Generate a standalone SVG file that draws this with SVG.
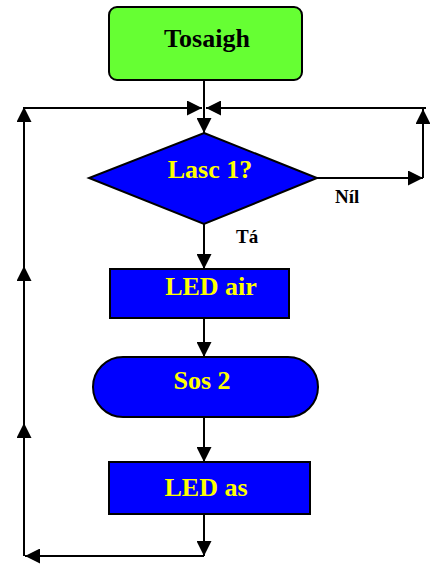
<svg xmlns="http://www.w3.org/2000/svg" width="430" height="566" viewBox="0 0 430 566">
<style>
.ln{stroke:#000;stroke-width:2;fill:none}
.nd{stroke:#000;stroke-width:2}
.blue{fill:#0000ff}
.t{font-family:"Liberation Serif","Times New Roman",serif;font-weight:bold;text-anchor:middle}
.y{fill:#ffff00;font-size:26px}
.k{fill:#000}
.lb{font-family:"Liberation Serif","Times New Roman",serif;font-weight:bold;font-size:19px;fill:#000}
</style>
<defs>
<marker id="ah" viewBox="0 0 10 10" refX="10" refY="5" markerWidth="7.5" markerHeight="7.5" orient="auto" markerUnits="strokeWidth">
<path d="M0,0 L10,5 L0,10 z" fill="#000"/>
</marker>
</defs>
<g id="connectors">
<line class="ln" x1="204" y1="81" x2="204" y2="133" marker-end="url(#ah)"/>
<line class="ln" x1="24" y1="108" x2="202" y2="108" marker-end="url(#ah)"/>
<line class="ln" x1="426" y1="108" x2="206" y2="108" marker-end="url(#ah)"/>
<line class="ln" x1="317" y1="178" x2="423" y2="178" marker-end="url(#ah)"/>
<line class="ln" x1="423" y1="178" x2="423" y2="109" marker-end="url(#ah)"/>
<line class="ln" x1="204" y1="224" x2="204" y2="269" marker-end="url(#ah)"/>
<line class="ln" x1="204" y1="318" x2="204" y2="357" marker-end="url(#ah)"/>
<line class="ln" x1="204" y1="417" x2="204" y2="462" marker-end="url(#ah)"/>
<line class="ln" x1="204" y1="514" x2="204" y2="556" marker-end="url(#ah)"/>
<line class="ln" x1="204" y1="556" x2="25" y2="556" marker-end="url(#ah)"/>
<line class="ln" x1="24" y1="556" x2="24" y2="423" marker-end="url(#ah)"/>
<line class="ln" x1="24" y1="423" x2="24" y2="266" marker-end="url(#ah)"/>
<line class="ln" x1="24" y1="266" x2="24" y2="107" marker-end="url(#ah)"/>
<text class="lb" x="335" y="203">Níl</text>
<text class="lb" x="236" y="243">Tá</text>
</g>
<g id="tosaigh">
<rect class="nd" x="109" y="7" width="193" height="73" rx="8" fill="#66ff33"/>
<text class="t k" x="207" y="47" font-size="26">Tosaigh</text>
</g>
<g id="lasc1">
<polygon class="nd blue" points="204,133 317,178 204,224 89,178"/>
<text class="t y" x="210" y="178">Lasc 1?</text>
</g>
<g id="ledair">
<rect class="nd blue" x="110" y="269" width="179" height="49"/>
<text class="t y" x="211" y="295">LED air</text>
</g>
<g id="sos2">
<rect class="nd blue" x="93" y="357" width="225" height="60" rx="30"/>
<text class="t y" x="202" y="389">Sos 2</text>
</g>
<g id="ledas">
<rect class="nd blue" x="109" y="462" width="201" height="52"/>
<text class="t y" x="206" y="496">LED as</text>
</g>
</svg>
